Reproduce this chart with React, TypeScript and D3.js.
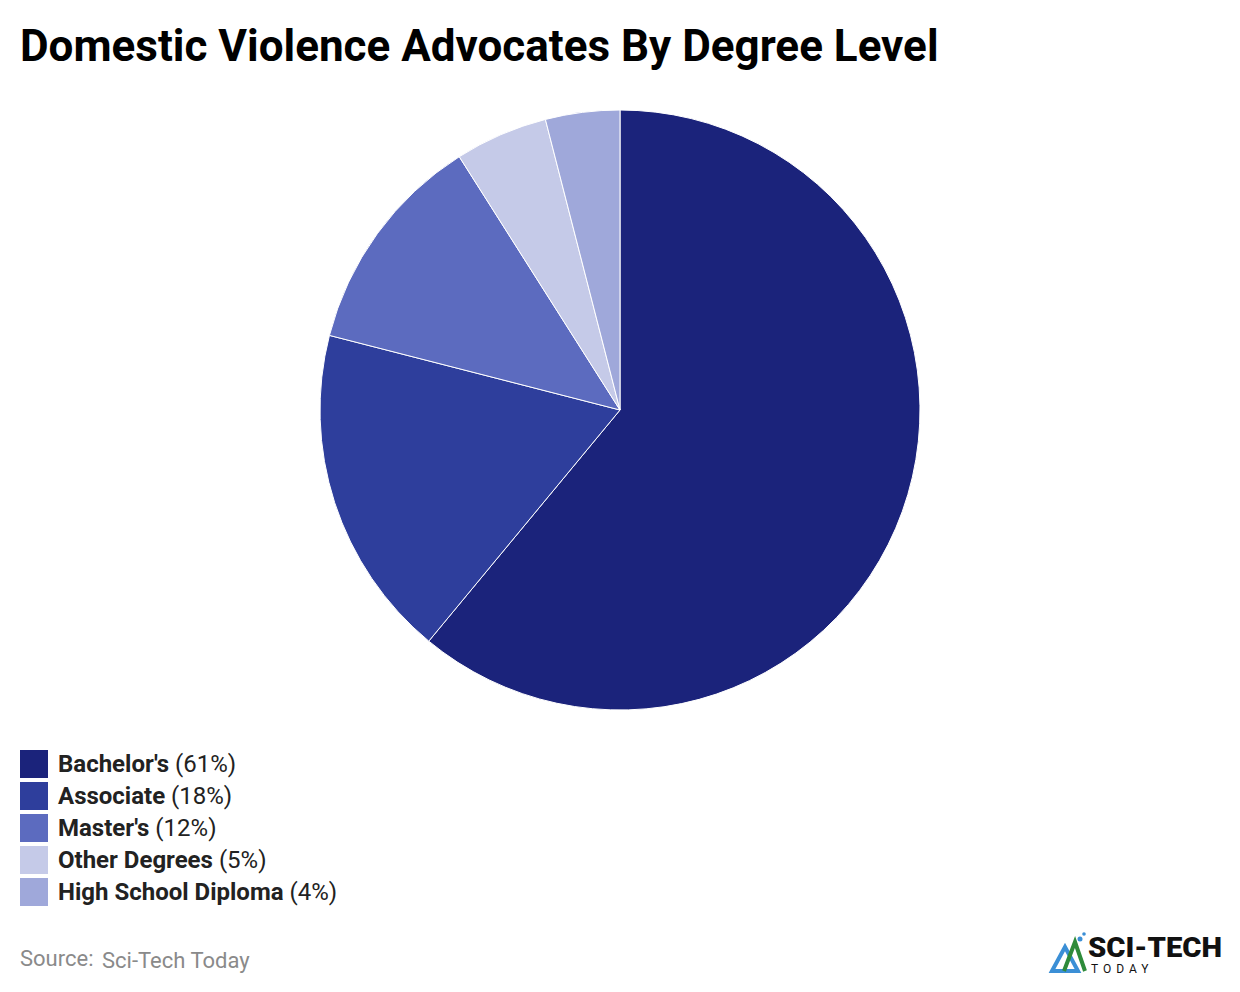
import React from "react";
import * as d3 from "d3";

const categories = ["Bachelor's", "Associate", "Master's", "Other Degrees", "High School Diploma"];
const values = [61, 18, 12, 5, 4];
const colors = ["#1b237b", "#2e3e9c", "#5c6bbf", "#c5cae8", "#9fa8da"];

export default function App() {
  const W = 1240, H = 992;
  const cx = 620, cy = 410, r = 300;
  const pie = d3.pie<number>().sort(null).value((d) => d)(values);
  const arc = d3.arc<d3.PieArcDatum<number>>().innerRadius(0).outerRadius(r);
  const font = "Roboto, 'Noto Sans', sans-serif";
  return (
    <svg width={W} height={H} style={{ position: "absolute", left: 0, top: 0, background: "#fff" }} fontFamily={font}>
      <text x={20} y={61} fontSize={44} fontWeight={700} fill="#000">Domestic Violence Advocates By Degree Level</text>
      <g transform={`translate(${cx},${cy})`}>
        {pie.map((p, i) => (
          <path key={i} d={arc(p) || ""} fill={colors[i]} stroke="#fff" strokeWidth={1} />
        ))}
      </g>
      {categories.map((c, i) => (
        <g key={c} transform={`translate(20,${750 + i * 32})`}>
          <rect width={28} height={28} fill={colors[i]} />
          <text x={38} y={22} fontSize={24} fill="#222">
            <tspan fontWeight={700}>{c}</tspan>
            <tspan> ({values[i]}%)</tspan>
          </text>
        </g>
      ))}
      <text x={20} y={966} fontSize={22} fill="#8a8a8a">Source:</text>
      <text x={102} y={968} fontSize={22} fill="#8a8a8a">Sci-Tech Today</text>
      <g transform="translate(1050,930)">
        <path d="M2,41 L15,17 L28,41 Z" fill="none" stroke="#3b8fd6" strokeWidth={4} />
        <path d="M14,41 L25,12 L35,41" fill="none" stroke="#2e8b3a" strokeWidth={4} />
        <circle cx={30} cy={9} r={2.5} fill="#3b8fd6" />
        <circle cx={34} cy={4} r={1.8} fill="#3b8fd6" />
        <text x={38} y={27} fontSize={28} fontWeight={900} fill="#111" textLength={134} lengthAdjust="spacingAndGlyphs">SCI-TECH</text>
        <text x={41} y={43} fontSize={12} fill="#111" letterSpacing={5}>TODAY</text>
      </g>
    </svg>
  );
}
